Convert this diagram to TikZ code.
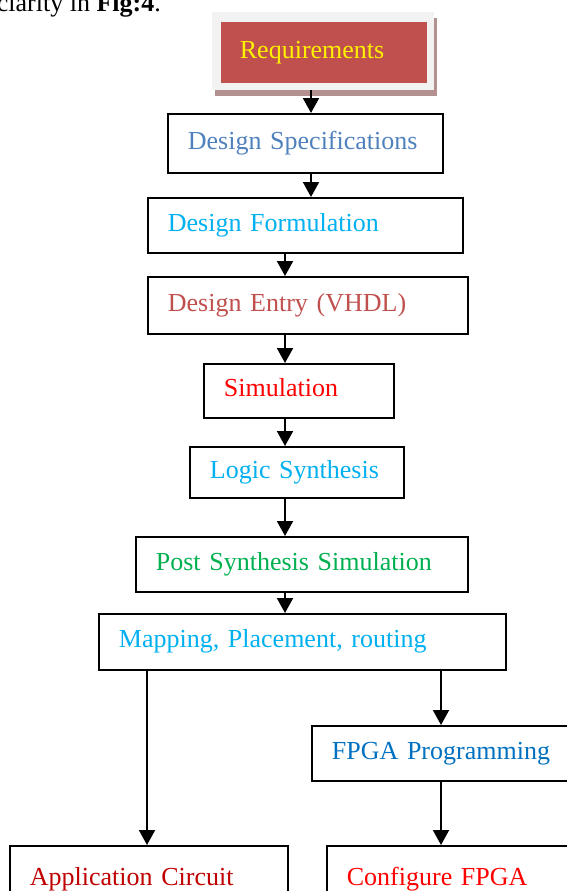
\documentclass[tikz,border=0pt]{standalone}
\usepackage{fontspec}
\setmainfont{Liberation Serif}
\usetikzlibrary{arrows.meta}
\definecolor{reqred}{HTML}{C0504D}
\definecolor{reqframe}{HTML}{F2F2F2}
\definecolor{reqshadow}{RGB}{180,145,145}
\definecolor{specblue}{HTML}{4F81BD}
\definecolor{lightblue}{HTML}{00B0F0}
\definecolor{darkblue}{HTML}{0070C0}
\definecolor{postgreen}{HTML}{00B050}
\definecolor{appred}{HTML}{C00000}
\begin{document}
\begin{tikzpicture}[x=1pt, y=-1pt, font=\fontsize{26pt}{30pt}\selectfont,
			box/.style = {draw, line width=1.8pt, anchor=north west, inner xsep=20pt, inner ysep=0pt, align=left, text height=18pt, text depth=6pt},
			arr/.style = {line width=2pt, -{Triangle[width=16pt,length=15pt]}}]
			
			\useasboundingbox (0,0) rectangle (567,891);
			\clip (0,0) rectangle (567,891);
			
			\node[anchor=base east, inner sep=0pt] (cap) at (161,12) {clarity in \textbf{Fig:4}.};
			
			% requirements with its frame and shadow
			\fill[reqshadow] (215,18) rectangle (437,96);
			\node[fill=reqframe, anchor=north west, minimum width=222pt, minimum height=78pt, inner sep=0pt] (reqbox) at (212,12) {};
			\node[box, draw=none, fill=reqred, text=yellow, inner xsep=19pt, text width=168pt, minimum height=61pt] (req) at (220,21) {Requirements};
			
			\node[box, text=specblue, text width=235pt, minimum height=59pt] (spec) at (167,113) {Design Specifications};
			\node[box, text=lightblue, text width=275pt, minimum height=55pt] (form) at (147,197) {Design Formulation};
			\node[box, text=reqred, text width=280pt, minimum height=57pt] (entry) at (147,276) {Design Entry (VHDL)};
			\node[box, text=red, text width=150pt, minimum height=54pt] (sim) at (203,363) {Simulation};
			\node[box, text=lightblue, text width=174pt, minimum height=51pt] (logic) at (189,446) {Logic Synthesis};
			\node[box, text=postgreen, text width=292pt, minimum height=55pt] (post) at (135,536) {Post Synthesis Simulation};
			\node[box, text=lightblue, text width=367pt, minimum height=56pt] (map) at (98,613) {Mapping, Placement, routing};
			\node[box, text=darkblue, text width=240pt, minimum height=55pt] (prog) at (311,725) {FPGA Programming};
			\node[box, text=appred, text width=238pt, minimum height=68pt] (app) at (9,845) {Application Circuit};
			\node[box, text=red, text width=240pt, minimum height=68pt] (conf) at (326,845) {Configure FPGA};
			
			\draw[arr] (311,0 |- reqbox.south) to (311,0 |- spec.north);
			\draw[arr] (311,0 |- spec.south) to (311,0 |- form.north);
			\draw[arr] (285,0 |- form.south) to (285,0 |- entry.north);
			\draw[arr] (285,0 |- entry.south) to (285,0 |- sim.north);
			\draw[arr] (285,0 |- sim.south) to (285,0 |- logic.north);
			\draw[arr] (285,0 |- logic.south) to (285,0 |- post.north);
			\draw[arr] (285,0 |- post.south) to (285,0 |- map.north);
			\draw[arr] (441,0 |- map.south) to (441,0 |- prog.north);
			\draw[arr] (441,0 |- prog.south) to (441,0 |- conf.north);
			\draw[arr] (147,0 |- map.south) to (147,0 |- app.north);
			
		\end{tikzpicture}
\end{document}
